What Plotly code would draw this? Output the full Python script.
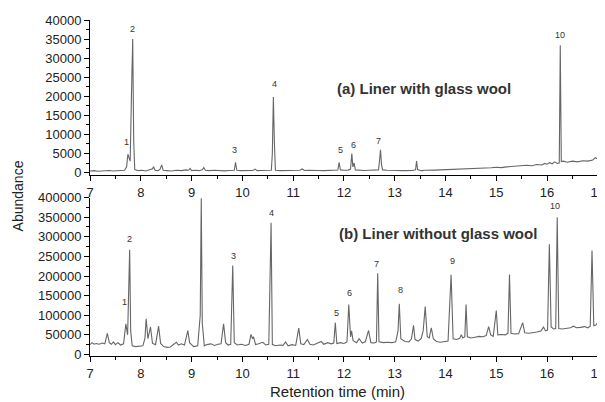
import plotly.graph_objects as go

# ---------------- data ----------------
top_time = [7.00, 7.08, 7.15, 7.22, 7.30, 7.38, 7.45, 7.52, 7.60, 7.68, 7.72, 7.745, 7.765, 7.79, 7.815, 7.84,
            7.86, 7.88, 7.95, 8.02, 8.10, 8.18, 8.23, 8.25, 8.28, 8.34, 8.38, 8.41, 8.44, 8.52, 8.60, 8.70,
            8.80, 8.88, 8.94, 8.97, 9.00, 9.08, 9.15, 9.21, 9.24, 9.27, 9.35, 9.45, 9.55, 9.65, 9.75, 9.84,
            9.865, 9.89, 9.97, 10.05, 10.13, 10.21, 10.25, 10.29, 10.38, 10.48, 10.57, 10.59, 10.61, 10.63,
            10.65, 10.75, 10.85, 10.95, 11.05, 11.13, 11.18, 11.22, 11.30, 11.40, 11.50, 11.60, 11.70, 11.80,
            11.88, 11.905, 11.93, 12.00, 12.08, 12.13, 12.155, 12.175, 12.20, 12.225, 12.30, 12.40, 12.50,
            12.60, 12.68, 12.70, 12.72, 12.74, 12.76, 12.85, 12.95, 13.05, 13.15, 13.25, 13.35, 13.41, 13.43,
            13.45, 13.52, 13.60, 13.70, 13.80, 13.90, 14.00, 14.10, 14.20, 14.30, 14.40, 14.50, 14.60, 14.70,
            14.80, 14.90, 15.00, 15.10, 15.20, 15.30, 15.40, 15.50, 15.60, 15.70, 15.80, 15.90, 15.95, 16.00,
            16.05, 16.10, 16.15, 16.20, 16.24, 16.26, 16.28, 16.32, 16.40, 16.50, 16.60, 16.70, 16.80, 16.90,
            16.95, 17.00]
top_abund = [400, 500, 350, 450, 400, 550, 400, 500, 450, 600, 1500, 4800, 4000, 3000, 20000, 35000,
             8000, 800, 500, 600, 400, 700, 1000, 1500, 600, 500, 900, 2000, 600, 500, 400, 600,
             500, 700, 600, 1100, 500, 600, 500, 700, 1300, 600, 500, 600, 500, 450, 550, 600,
             2700, 600, 500, 550, 450, 550, 900, 500, 550, 500, 600, 5000, 19800, 8000,
             600, 500, 550, 600, 500, 600, 950, 550, 600, 500, 550, 500, 600, 550,
             650, 2700, 700, 600, 650, 900, 5000, 1500, 2500, 700, 600, 550, 600,
             550, 700, 3000, 6000, 2000, 700, 600, 500, 550, 500, 450, 550, 700, 3000,
             800, 500, 600, 550, 650, 700, 750, 800, 850, 800, 950, 900, 1000, 1100,
             1050, 1250, 1400, 1300, 1500, 1600, 1550, 1750, 1900, 1800, 2100, 2000, 2400, 2200,
             2600, 2300, 2800, 2400, 2500, 33400, 2900, 3000, 2700, 3000, 2800, 3100, 3000, 3300,
             3900, 3500]

bot_time = [7.00, 7.04, 7.08, 7.12, 7.18, 7.24, 7.29, 7.34, 7.38, 7.42, 7.46, 7.50, 7.55, 7.60, 7.66, 7.705,
            7.74, 7.765, 7.78, 7.80, 7.83, 7.90, 7.97, 8.04, 8.08, 8.105, 8.14, 8.19, 8.23, 8.29, 8.35, 8.39,
            8.45, 8.52, 8.58, 8.64, 8.70, 8.74, 8.80, 8.86, 8.925, 8.96, 9.04, 9.12, 9.17, 9.19, 9.21, 9.25,
            9.30, 9.38, 9.45, 9.52, 9.58, 9.63, 9.67, 9.72, 9.77, 9.81, 9.84, 9.90, 9.98, 10.06, 10.13, 10.17,
            10.20, 10.22, 10.26, 10.32, 10.40, 10.46, 10.52, 10.565, 10.59, 10.66, 10.74, 10.80, 10.85, 10.90,
            10.98, 11.05, 11.11, 11.15, 11.21, 11.28, 11.33, 11.40, 11.47, 11.55, 11.60, 11.68, 11.75, 11.80,
            11.83, 11.86, 11.93, 12.00, 12.06, 12.095, 12.13, 12.15, 12.18, 12.25, 12.30, 12.36, 12.42, 12.485,
            12.53, 12.60, 12.64, 12.665, 12.69, 12.78, 12.86, 12.94, 13.02, 13.065, 13.09, 13.12, 13.20, 13.28,
            13.33, 13.37, 13.40, 13.46, 13.52, 13.56, 13.60, 13.64, 13.68, 13.72, 13.76, 13.82, 13.90, 13.98,
            14.05, 14.11, 14.15, 14.22, 14.28, 14.31, 14.34, 14.38, 14.405, 14.43, 14.50, 14.58, 14.66, 14.74,
            14.80, 14.85, 14.89, 14.94, 15.00, 15.03, 15.10, 15.18, 15.23, 15.26, 15.29, 15.36, 15.44, 15.52,
            15.56, 15.64, 15.72, 15.80, 15.88, 15.93, 15.97, 16.01, 16.045, 16.08, 16.13, 16.17, 16.20, 16.23,
            16.30, 16.38, 16.46, 16.52, 16.58, 16.66, 16.74, 16.80, 16.85, 16.885, 16.92, 16.96, 17.00]
bot_abund = [25000, 30000, 26000, 28000, 26000, 29000, 27000, 54000, 30000, 26000, 32000, 25000, 30000, 24000, 27000, 78000,
             50000, 150000, 267000, 60000, 22000, 20000, 21000, 22000, 40000, 91000, 40000, 70000, 28000, 25000, 72000, 28000,
             20000, 18000, 19000, 25000, 31000, 24000, 27000, 24000, 61000, 30000, 20000, 22000, 100000, 398000, 80000, 22000,
             25000, 27000, 23000, 26000, 27000, 78000, 30000, 24000, 26000, 227000, 30000, 24000, 26000, 23000, 26000, 51000,
             40000, 45000, 25000, 27000, 31000, 24000, 26000, 336000, 25000, 22000, 24000, 23000, 32000, 22000,
             25000, 23000, 67000, 27000, 25000, 38000, 26000, 24000, 28000, 33000, 26000, 30000, 27000, 29000,
             81000, 28000, 30000, 28000, 32000, 127000, 45000, 60000, 35000, 30000, 40000, 29000, 32000, 61000,
             30000, 29000, 32000, 207000, 32000, 30000, 31000, 30000, 32000, 60000, 129000, 40000, 33000, 32000,
             40000, 74000, 38000, 34000, 40000, 60000, 122000, 45000, 42000, 68000, 40000, 33000, 31000, 32000,
             34000, 203000, 40000, 38000, 41000, 50000, 42000, 45000, 127000, 45000, 42000, 44000, 46000, 45000,
             48000, 71000, 50000, 46000, 112000, 50000, 51000, 50000, 54000, 204000, 54000, 52000, 53000, 81000,
             55000, 54000, 55000, 57000, 60000, 70000, 60000, 62000, 281000, 70000, 65000, 66000, 350000, 66000,
             65000, 66000, 68000, 72000, 68000, 69000, 71000, 68000, 72000, 265000, 73000, 75000, 82000]

top_label_text = ["1", "2", "3", "4", "5", "6", "7", "10"]
top_label_time = [7.71, 7.83, 9.85, 10.63, 11.925, 12.19, 12.69, 16.26]
top_label_abund = [7900, 37600, 5800, 23100, 6000, 7100, 8400, 36000]

bot_label_text = ["1", "2", "3", "4", "5", "6", "7", "8", "9", "10"]
bot_label_time = [7.68, 7.78, 9.83, 10.575, 11.845, 12.11, 12.65, 13.11, 14.13, 16.16]
bot_label_abund = [133500, 293600, 251000, 360000, 104700, 155700, 229800, 163400, 238200, 377800]

top_ticks = [0, 5000, 10000, 15000, 20000, 25000, 30000, 35000, 40000]
bot_ticks = [0, 50000, 100000, 150000, 200000, 250000, 300000, 350000, 400000]
x_ticks = [7, 8, 9, 10, 11, 12, 13, 14, 15, 16, 17]

FONT = "Liberation Sans, Arial, sans-serif"
LINE = "#666666"

fig = go.Figure()
fig.add_trace(go.Scatter(x=top_time, y=top_abund, mode="lines", line=dict(color=LINE, width=1.1),
                         xaxis="x", yaxis="y", showlegend=False))
fig.add_trace(go.Scatter(x=bot_time, y=bot_abund, mode="lines", line=dict(color=LINE, width=1.1),
                         xaxis="x2", yaxis="y2", showlegend=False))

axis_common = dict(showgrid=False, zeroline=False, showline=True, linecolor="black", linewidth=1,
                   ticks="outside", ticklen=5, tickwidth=1, tickcolor="black", automargin=False,
                   ticklabeloverflow="allow",
                   tickfont=dict(family=FONT, size=13, color="#222"))

# the page body adds an 8px offset, so the figure is sized to fill the rest of the window
fig.update_layout(
    width=597, height=394,
    margin=dict(l=82, r=7, t=12, b=46),
    paper_bgcolor="white", plot_bgcolor="white",
    xaxis=dict(axis_common, domain=[0, 1], range=[6.999, 17.003], anchor="y", tickvals=x_ticks,
               minor=dict(ticks="outside", ticklen=3, dtick=0.5, tick0=7, tickcolor="black")),
    yaxis=dict(axis_common, domain=[0.538, 1.0], range=[-700, 40000], anchor="x", tickvals=top_ticks,
               tickformat="d",
               minor=dict(ticks="outside", ticklen=3, dtick=2500, tick0=0, tickcolor="black")),
    xaxis2=dict(axis_common, domain=[0, 1], range=[6.999, 17.003], anchor="y2", tickvals=x_ticks,
                minor=dict(ticks="outside", ticklen=3, dtick=0.5, tick0=7, tickcolor="black")),
    yaxis2=dict(axis_common, domain=[0, 0.4715], range=[-4000, 400000], anchor="x2", tickvals=bot_ticks,
                tickformat="d",
                minor=dict(ticks="outside", ticklen=3, dtick=25000, tick0=0, tickcolor="black")),
)

annotations = []
for t, x, y in zip(top_label_text, top_label_time, top_label_abund):
    annotations.append(dict(text=t, x=x, y=y, xref="x", yref="y", showarrow=False,
                            font=dict(family=FONT, size=9, color="#333")))
for t, x, y in zip(bot_label_text, bot_label_time, bot_label_abund):
    annotations.append(dict(text=t, x=x, y=y, xref="x2", yref="y2", showarrow=False,
                            font=dict(family=FONT, size=9, color="#333")))

annotations.append(dict(text="<b>(a) Liner with glass wool</b>", x=11.83, y=22100, xref="x", yref="y",
                        xanchor="left", yanchor="middle", showarrow=False,
                        font=dict(family=FONT, size=15, color="#333")))
annotations.append(dict(text="<b>(b) Liner without glass wool</b>", x=11.87, y=309000, xref="x2", yref="y2",
                        xanchor="left", yanchor="middle", showarrow=False,
                        font=dict(family=FONT, size=15, color="#333")))
annotations.append(dict(text="Abundance", x=-0.1417, y=0.475, xref="paper", yref="paper",
                        textangle=-90, showarrow=False, xanchor="center", yanchor="middle",
                        font=dict(family=FONT, size=14, color="#222")))
annotations.append(dict(text="Retention time (min)", x=0.488, y=-0.106, xref="paper", yref="paper",
                        showarrow=False, xanchor="center", yanchor="middle",
                        font=dict(family=FONT, size=15, color="#222")))
fig.update_layout(annotations=annotations)

fig.write_html("out.html")
